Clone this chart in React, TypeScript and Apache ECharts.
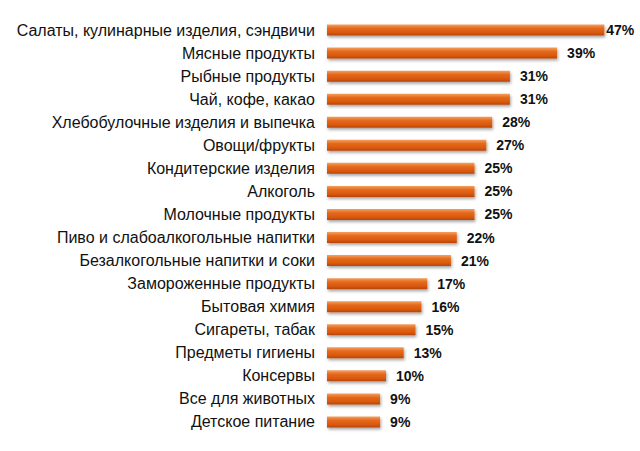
import React, { useEffect, useRef } from "react";
import * as echarts from "echarts";

const categories = [
  "Салаты, кулинарные изделия, сэндвичи",
  "Мясные продукты",
  "Рыбные продукты",
  "Чай, кофе, какао",
  "Хлебобулочные изделия и выпечка",
  "Овощи/фрукты",
  "Кондитерские изделия",
  "Алкоголь",
  "Молочные продукты",
  "Пиво и слабоалкогольные напитки",
  "Безалкогольные напитки и соки",
  "Замороженные продукты",
  "Бытовая химия",
  "Сигареты, табак",
  "Предметы гигиены",
  "Консервы",
  "Все для животных",
  "Детское питание",
];

const values = [47, 39, 31, 31, 28, 27, 25, 25, 25, 22, 21, 17, 16, 15, 13, 10, 9, 9];

export default function App() {
  const ref = useRef<HTMLDivElement>(null);
  useEffect(() => {
    const chart = echarts.init(ref.current!, null, { renderer: "svg" });
    chart.setOption({
      animation: false,
      backgroundColor: "#ffffff",
      grid: { left: 327, top: 18.5, width: 295, height: 415, containLabel: false },
      xAxis: {
        type: "value",
        min: 0,
        max: 50,
        show: false,
      },
      yAxis: {
        type: "category",
        data: categories,
        inverse: true,
        axisLine: { show: false },
        axisTick: { show: false },
        axisLabel: {
          color: "#111111",
          fontSize: 16,
          fontFamily: "Liberation Sans, Arial, sans-serif",
          margin: 12,
        },
      },
      series: [
        {
          type: "bar",
          data: values.map((v, i) => ({
            value: v,
            label: { distance: i === 0 ? 2 : 10 },
          })),
          barWidth: 11,
          itemStyle: {
            color: new echarts.graphic.LinearGradient(0, 0, 0, 1, [
              { offset: 0, color: "#F5A060" },
              { offset: 0.35, color: "#E4691C" },
              { offset: 0.75, color: "#D9580C" },
              { offset: 1, color: "#B4440A" },
            ]),
            shadowColor: "rgba(0,0,0,0.35)",
            shadowBlur: 3,
            shadowOffsetX: 1,
            shadowOffsetY: 2,
          },
          label: {
            show: true,
            position: "right",
            formatter: "{c}%",
            color: "#111111",
            fontSize: 14,
            fontWeight: "bold",
            fontFamily: "Liberation Sans, Arial, sans-serif",
          },
        },
      ],
    });
    return () => chart.dispose();
  }, []);
  return <div ref={ref} style={{ width: 640, height: 451, position: "absolute", left: 0, top: 0 }} />;
}
